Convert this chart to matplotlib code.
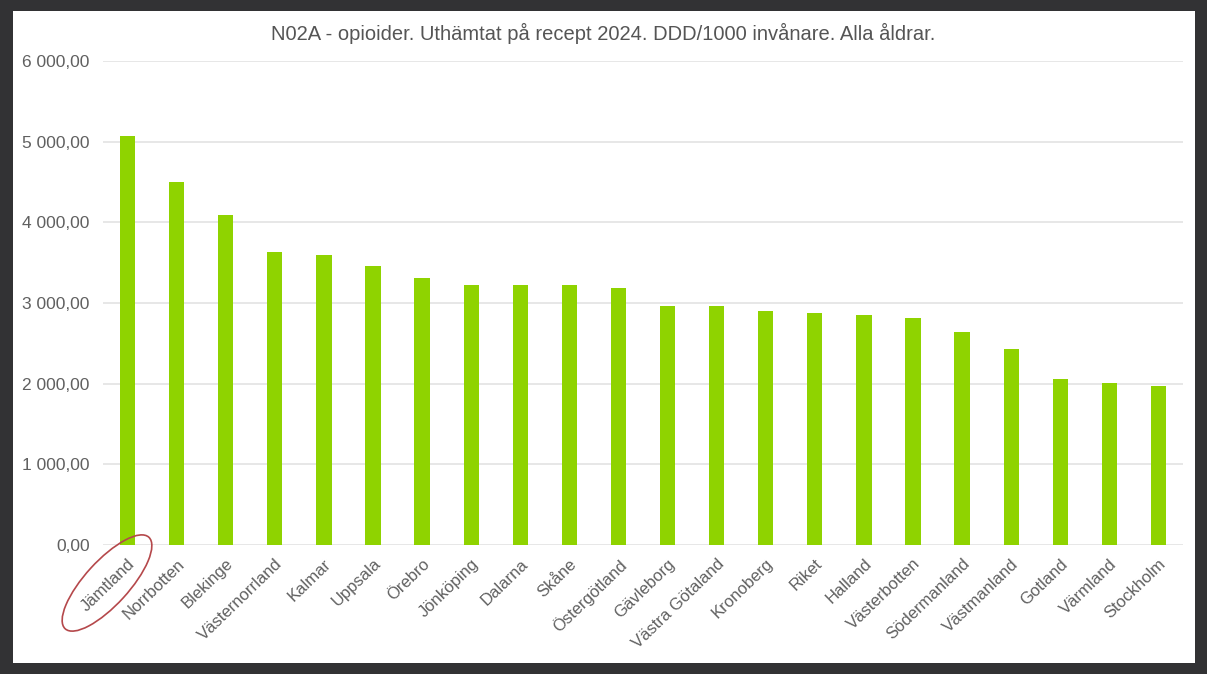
import matplotlib.pyplot as plt
from matplotlib.patches import Ellipse, Rectangle
from matplotlib.ticker import FuncFormatter
from matplotlib.transforms import IdentityTransform

# regions and DDD/1000 inhabitants
regions = ["Jämtland", "Norrbotten", "Blekinge", "Västernorrland", "Kalmar",
           "Uppsala", "Örebro", "Jönköping", "Dalarna", "Skåne", "Östergötland",
           "Gävleborg", "Västra Götaland", "Kronoberg", "Riket", "Halland",
           "Västerbotten", "Södermanland", "Västmanland", "Gotland",
           "Värmland", "Stockholm"]
ddd = [5074, 4495, 4086, 3631, 3590, 3453, 3316, 3226, 3226, 3226, 3180,
       2957, 2957, 2903, 2870, 2854, 2808, 2646, 2435, 2060, 2014, 1973]
yticks = [0, 1000, 2000, 3000, 4000, 5000, 6000]

plt.rcParams['font.family'] = ['Liberation Sans', 'DejaVu Sans']

W, H = 1207, 674
fig = plt.figure(figsize=(W / 100, H / 100), dpi=100, facecolor='#323234')

# white card on the dark frame
fig.patches.append(Rectangle((13, H - 663), 1182, 652, transform=IdentityTransform(),
                             facecolor='white', edgecolor='none', zorder=-5))

ax = fig.add_axes([103 / W, (H - 545) / H, 1080 / W, 484 / H])
ax.set_facecolor('none')
ax.set_zorder(2)

x = range(len(regions))
ax.bar(x, ddd, width=0.31, color='#8FD300', zorder=3)

ax.set_xlim(-0.5, len(regions) - 0.5)
ax.set_ylim(0, 6000)
ax.set_yticks(yticks)
ax.yaxis.set_major_formatter(FuncFormatter(lambda v, p: f"{v:,.2f}".replace(",", " ").replace(".", ",")))
ax.grid(axis='y', color='#e3e3e3', linewidth=1.2, zorder=0)
for s in ax.spines.values():
    s.set_visible(False)
ax.tick_params(axis='both', length=0, colors='#606060', labelsize=12.5)
ax.tick_params(axis='y', pad=9.5)

ax.set_xticks(list(x))
ax.set_xticklabels(regions, rotation=44, ha='right', rotation_mode='anchor', fontsize=12)
ax.tick_params(axis='x', pad=8)

fig.text(0.5, (H - 33) / H, "N02A - opioider. Uthämtat på recept 2024. DDD/1000 invånare. Alla åldrar.",
         ha='center', va='center', fontsize=14.5, color='#555555')

# red ring around Jämtland
fig.add_artist(Ellipse((107, H - 583), 124, 44, angle=47.6, transform=IdentityTransform(),
                       fill=False, edgecolor='#b5484b', linewidth=1.2, zorder=5))

fig.savefig('out.png', dpi=100, facecolor=fig.get_facecolor())
